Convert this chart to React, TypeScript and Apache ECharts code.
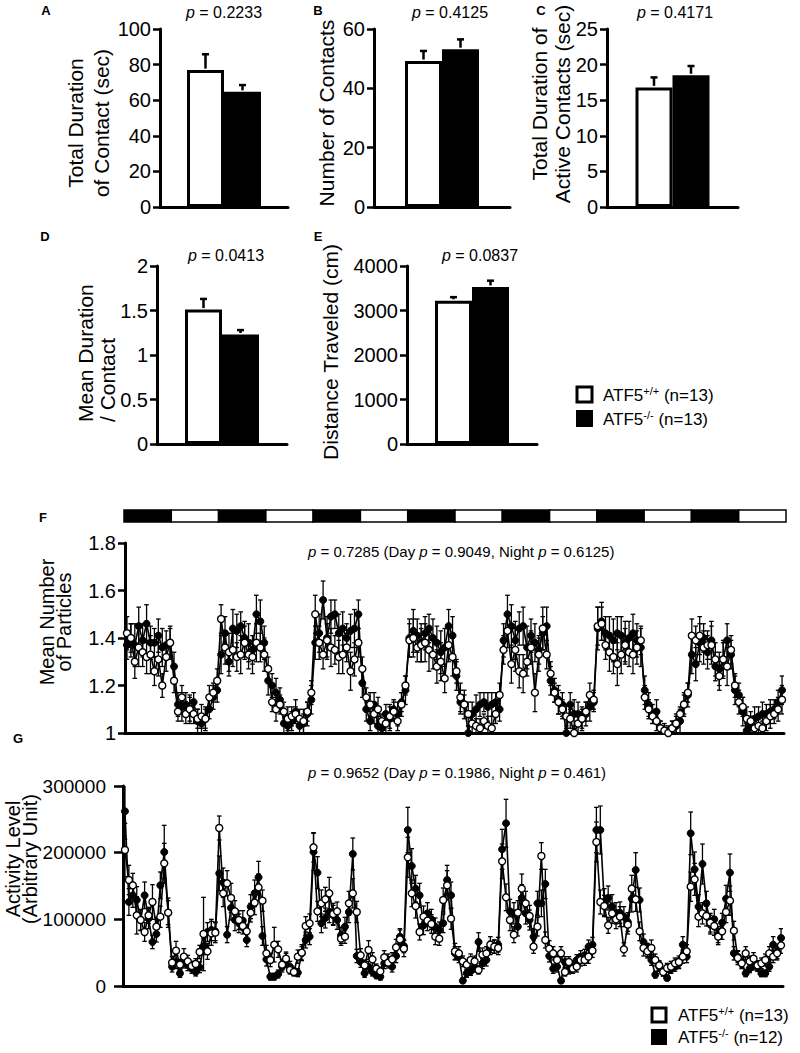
import React, { useEffect, useRef } from "react";
import * as echarts from "echarts";

const FONT = '"Liberation Sans", Arial, Helvetica, sans-serif';

// ---------- Bar panels A–E (mean, SEM), order: [ATF5+/+, ATF5-/-] ----------
const genotypes = ["ATF5+/+", "ATF5-/-"];
const contactDurationMean = [76.9, 64.7];
const contactDurationSem = [8.9, 3.8];
const contactCountMean = [49.2, 53.2];
const contactCountSem = [3.4, 3.3];
const activeContactMean = [16.8, 18.5];
const activeContactSem = [1.4, 1.3];
const durationPerContactMean = [1.51, 1.23];
const durationPerContactSem = [0.12, 0.05];
const distanceMean = [3220, 3530];
const distanceSem = [80, 140];

const pBars = ["0.2233", "0.4125", "0.4171", "0.0413", "0.0837"];

// ---------- Light/dark schedule: [startHour, endHour, dark(1)/light(0)] ----------
const lightPhases = [
  [0, 12, 1], [12, 24, 0], [24, 36, 1], [36, 48, 0], [48, 60, 1], [60, 72, 0], [72, 84, 1],
  [84, 96, 0], [96, 108, 1], [108, 120, 0], [120, 132, 1], [132, 144, 0], [144, 156, 1], [156, 168, 0],
];

// ---------- F: mean number of particles, hourly (7 days, night first) ----------
const particlesWT = [
  1.42, 1.40, 1.30, 1.36, 1.34, 1.32, 1.33, 1.26, 1.31, 1.20, 1.32, 1.38,
  1.22, 1.09, 1.15, 1.08, 1.10, 1.08, 1.06, 1.07, 1.06, 1.15, 1.17, 1.22,
  1.48, 1.36, 1.34, 1.35, 1.32, 1.33, 1.38, 1.33, 1.32, 1.38, 1.36, 1.33,
  1.27, 1.13, 1.10, 1.12, 1.09, 1.06, 1.07, 1.08, 1.06, 1.05, 1.09, 1.17,
  1.50, 1.38, 1.33, 1.39, 1.36, 1.35, 1.32, 1.33, 1.36, 1.26, 1.31, 1.38,
  1.27, 1.15, 1.12, 1.08, 1.10, 1.05, 1.04, 1.07, 1.09, 1.05, 1.12, 1.20,
  1.39, 1.40, 1.36, 1.37, 1.38, 1.35, 1.33, 1.28, 1.30, 1.23, 1.37, 1.32,
  1.26, 1.15, 1.12, 1.08, 1.04, 1.03, 1.02, 1.05, 1.03, 1.02, 1.08, 1.16,
  1.35, 1.43, 1.29, 1.35, 1.26, 1.25, 1.30, 1.36, 1.17, 1.33, 1.44, 1.33,
  1.25, 1.17, 1.13, 1.10, 1.07, 1.06, 1.00, 1.04, 1.06, 1.09, 1.16, 1.14,
  1.45, 1.46, 1.37, 1.34, 1.32, 1.29, 1.33, 1.37, 1.34, 1.33, 1.36, 1.39,
  1.15, 1.10, 1.07, 1.05, 1.02, 1.01, 1.00, 1.02, 1.04, 1.08, 1.12, 1.17,
  1.41, 1.39, 1.41, 1.36, 1.37, 1.37, 1.31, 1.24, 1.31, 1.28, 1.35, 1.20,
  1.13, 1.11, 1.06, 1.05, 1.02, 1.03, 1.02, 1.05, 1.07, 1.08, 1.10, 1.14,
];
const particlesKO = [
  1.37, 1.39, 1.37, 1.45, 1.39, 1.46, 1.38, 1.38, 1.41, 1.36, 1.37, 1.38,
  1.28, 1.12, 1.11, 1.12, 1.10, 1.13, 1.05, 1.04, 1.06, 1.10, 1.15, 1.18,
  1.33, 1.42, 1.30, 1.44, 1.43, 1.45, 1.40, 1.38, 1.35, 1.50, 1.47, 1.38,
  1.22, 1.20, 1.17, 1.14, 1.04, 1.03, 1.05, 1.09, 1.03, 1.04, 1.08, 1.14,
  1.38, 1.42, 1.56, 1.40, 1.49, 1.50, 1.42, 1.44, 1.40, 1.43, 1.44, 1.50,
  1.21, 1.10, 1.05, 1.12, 1.03, 1.02, 1.08, 1.06, 1.10, 1.08, 1.13, 1.18,
  1.40, 1.43, 1.41, 1.38, 1.42, 1.44, 1.40, 1.38, 1.34, 1.36, 1.45, 1.41,
  1.24, 1.13, 1.12, 1.00, 1.08, 1.10, 1.12, 1.13, 1.11, 1.12, 1.13, 1.10,
  1.39, 1.50, 1.45, 1.39, 1.44, 1.45, 1.36, 1.41, 1.38, 1.35, 1.42, 1.45,
  1.22, 1.18, 1.14, 1.12, 1.00, 1.12, 1.08, 1.08, 1.06, 1.08, 1.11, 1.13,
  1.44, 1.47, 1.42, 1.41, 1.39, 1.42, 1.41, 1.38, 1.40, 1.42, 1.39, 1.36,
  1.18, 1.12, 1.08, 1.09, 1.02, 1.01, 1.01, 1.02, 1.03, 1.05, 1.12, 1.16,
  1.33, 1.29, 1.38, 1.40, 1.34, 1.39, 1.28, 1.27, 1.31, 1.39, 1.33, 1.18,
  1.16, 1.09, 1.01, 1.03, 1.06, 1.07, 1.08, 1.08, 1.09, 1.10, 1.13, 1.18,
];
const particlesWTSem = [
  .07, .06, .07, .08, .06, .07, .08, .06, .07, .05, .06, .06,
  .05, .04, .05, .04, .05, .04, .04, .05, .04, .05, .04, .05,
  .06, .07, .08, .07, .06, .08, .07, .06, .07, .08, .06, .07,
  .05, .04, .05, .04, .04, .05, .04, .03, .04, .05, .04, .05,
  .08, .07, .06, .07, .08, .06, .07, .08, .06, .08, .07, .06,
  .05, .04, .05, .04, .05, .03, .04, .05, .04, .04, .05, .04,
  .07, .08, .06, .07, .08, .09, .06, .07, .08, .06, .07, .08,
  .05, .06, .04, .05, .04, .03, .04, .03, .04, .05, .04, .05,
  .06, .07, .08, .09, .07, .08, .06, .07, .08, .07, .09, .06,
  .05, .04, .05, .04, .05, .04, .03, .04, .05, .04, .05, .04,
  .08, .07, .06, .08, .07, .09, .08, .07, .06, .08, .07, .06,
  .05, .04, .03, .04, .03, .03, .02, .03, .04, .03, .05, .04,
  .07, .06, .08, .07, .06, .08, .07, .06, .07, .08, .06, .05,
  .05, .04, .05, .04, .03, .04, .03, .04, .05, .04, .05, .06,
];
const particlesKOSem = [
  .06, .07, .09, .08, .07, .08, .07, .06, .07, .08, .06, .07,
  .06, .05, .06, .05, .06, .04, .05, .04, .05, .04, .05, .05,
  .08, .07, .06, .08, .07, .06, .07, .08, .06, .08, .09, .07,
  .06, .05, .06, .05, .04, .03, .04, .05, .03, .04, .05, .06,
  .07, .08, .08, .09, .07, .06, .08, .07, .06, .07, .08, .06,
  .06, .05, .04, .05, .04, .03, .04, .05, .04, .05, .04, .06,
  .08, .09, .07, .08, .07, .06, .08, .07, .09, .08, .07, .08,
  .06, .05, .06, .03, .05, .06, .05, .04, .06, .05, .04, .05,
  .07, .08, .09, .08, .07, .08, .09, .07, .08, .06, .07, .08,
  .06, .05, .06, .05, .03, .05, .06, .05, .04, .05, .06, .04,
  .09, .08, .07, .08, .09, .07, .08, .09, .07, .08, .07, .08,
  .06, .05, .04, .05, .03, .02, .02, .03, .04, .05, .04, .05,
  .08, .07, .08, .06, .07, .08, .06, .07, .08, .07, .06, .06,
  .05, .06, .03, .04, .05, .04, .05, .04, .05, .04, .05, .06,
];

// ---------- G: activity level, hourly ----------
const activityWT = [
  204000, 159000, 151000, 106000, 99000, 81000, 106000, 126000, 89000, 104000, 184000, 110000,
  35000, 53000, 32000, 44000, 37000, 30000, 33000, 51000, 78000, 52000, 79000, 80000,
  237000, 139000, 154000, 132000, 112000, 99000, 90000, 82000, 110000, 125000, 148000, 128000,
  49000, 39000, 62000, 55000, 32000, 41000, 24000, 21000, 44000, 50000, 90000, 94000,
  208000, 112000, 124000, 130000, 139000, 108000, 112000, 71000, 74000, 124000, 139000, 111000,
  46000, 31000, 54000, 40000, 26000, 22000, 43000, 35000, 40000, 58000, 70000, 56000,
  193000, 139000, 120000, 81000, 104000, 98000, 93000, 74000, 71000, 129000, 151000, 101000,
  52000, 49000, 37000, 32000, 39000, 37000, 24000, 47000, 49000, 62000, 59000, 57000,
  187000, 133000, 99000, 77000, 110000, 146000, 124000, 105000, 59000, 89000, 195000, 69000,
  56000, 49000, 39000, 49000, 21000, 36000, 26000, 29000, 39000, 39000, 44000, 53000,
  216000, 126000, 120000, 91000, 109000, 100000, 104000, 55000, 92000, 146000, 130000, 82000,
  57000, 52000, 57000, 39000, 31000, 21000, 27000, 29000, 34000, 36000, 44000, 52000,
  149000, 160000, 104000, 109000, 105000, 95000, 90000, 74000, 82000, 111000, 128000, 83000,
  42000, 34000, 49000, 37000, 41000, 31000, 34000, 39000, 49000, 44000, 49000, 61000,
];
const activityKO = [
  262000, 126000, 136000, 129000, 99000, 136000, 101000, 66000, 78000, 151000, 201000, 110000,
  29000, 36000, 19000, 36000, 31000, 26000, 21000, 28000, 59000, 81000, 84000, 82000,
  169000, 155000, 77000, 117000, 99000, 94000, 98000, 69000, 119000, 139000, 163000, 75000,
  40000, 14000, 14000, 18000, 29000, 39000, 29000, 22000, 20000, 49000, 69000, 74000,
  201000, 170000, 94000, 102000, 111000, 106000, 99000, 76000, 89000, 111000, 198000, 45000,
  36000, 19000, 29000, 21000, 16000, 14000, 34000, 39000, 29000, 45000, 74000, 60000,
  234000, 180000, 146000, 136000, 91000, 109000, 100000, 89000, 84000, 94000, 159000, 136000,
  49000, 44000, 8000, 19000, 22000, 29000, 66000, 34000, 39000, 57000, 59000, 62000,
  205000, 244000, 112000, 109000, 89000, 132000, 109000, 99000, 74000, 124000, 124000, 153000,
  45000, 26000, 29000, 8000, 36000, 24000, 31000, 39000, 44000, 46000, 59000, 62000,
  234000, 234000, 126000, 132000, 119000, 109000, 110000, 104000, 96000, 131000, 174000, 129000,
  66000, 54000, 39000, 17000, 29000, 21000, 12000, 26000, 29000, 34000, 62000, 44000,
  229000, 175000, 119000, 183000, 124000, 92000, 100000, 77000, 95000, 131000, 170000, 49000,
  44000, 36000, 19000, 26000, 31000, 29000, 19000, 19000, 29000, 62000, 51000, 72000,
];
const activityWTSem = [
  40000, 22000, 18000, 28000, 15000, 14000, 12000, 26000, 14000, 16000, 30000, 18000,
  9000, 14000, 8000, 12000, 9000, 7000, 8000, 10000, 55000, 12000, 18000, 15000,
  18000, 20000, 19000, 22000, 16000, 14000, 12000, 10000, 14000, 18000, 20000, 16000,
  12000, 10000, 26000, 12000, 8000, 10000, 6000, 6000, 10000, 12000, 14000, 14000,
  22000, 15000, 20000, 18000, 24000, 16000, 14000, 10000, 10000, 18000, 22000, 16000,
  10000, 8000, 14000, 10000, 7000, 6000, 10000, 8000, 10000, 12000, 14000, 12000,
  30000, 20000, 18000, 12000, 16000, 15000, 14000, 12000, 10000, 18000, 22000, 16000,
  12000, 10000, 8000, 7000, 9000, 8000, 6000, 10000, 10000, 12000, 10000, 10000,
  26000, 20000, 16000, 12000, 18000, 22000, 18000, 16000, 10000, 14000, 20000, 12000,
  12000, 10000, 8000, 10000, 6000, 8000, 7000, 8000, 9000, 8000, 10000, 10000,
  30000, 18000, 16000, 12000, 15000, 14000, 15000, 10000, 14000, 20000, 18000, 14000,
  12000, 10000, 12000, 9000, 7000, 6000, 7000, 8000, 8000, 9000, 10000, 10000,
  22000, 24000, 15000, 16000, 15000, 14000, 14000, 12000, 12000, 16000, 22000, 14000,
  10000, 8000, 10000, 8000, 9000, 7000, 8000, 9000, 10000, 9000, 10000, 12000,
];
const activityKOSem = [
  42000, 20000, 18000, 20000, 16000, 20000, 15000, 10000, 12000, 20000, 40000, 22000,
  8000, 10000, 6000, 9000, 8000, 7000, 6000, 8000, 12000, 14000, 16000, 14000,
  26000, 22000, 12000, 18000, 16000, 14000, 15000, 10000, 18000, 20000, 24000, 14000,
  10000, 5000, 5000, 6000, 8000, 10000, 8000, 6000, 6000, 10000, 12000, 12000,
  28000, 24000, 14000, 15000, 16000, 15000, 14000, 12000, 14000, 16000, 24000, 10000,
  8000, 6000, 8000, 6000, 5000, 5000, 8000, 9000, 8000, 10000, 12000, 10000,
  34000, 26000, 20000, 18000, 14000, 16000, 15000, 13000, 12000, 14000, 22000, 20000,
  10000, 9000, 4000, 6000, 6000, 8000, 14000, 8000, 9000, 10000, 10000, 11000,
  30000, 36000, 18000, 16000, 14000, 20000, 16000, 15000, 12000, 18000, 20000, 22000,
  9000, 7000, 8000, 4000, 8000, 6000, 7000, 8000, 9000, 9000, 10000, 11000,
  34000, 36000, 20000, 18000, 18000, 16000, 16000, 15000, 14000, 20000, 26000, 18000,
  12000, 10000, 8000, 5000, 7000, 6000, 4000, 7000, 7000, 8000, 12000, 9000,
  32000, 26000, 18000, 30000, 18000, 14000, 15000, 12000, 14000, 20000, 28000, 10000,
  9000, 8000, 5000, 6000, 7000, 7000, 5000, 5000, 7000, 12000, 10000, 14000,
];

const hours = particlesWT.map((_, i) => String(i));

const BAR_W = 37;

function buildOption() {
  const grids: any[] = [];
  const xAxes: any[] = [];
  const yAxes: any[] = [];
  const series: any[] = [];

  const axisLine = { show: true, onZero: false, lineStyle: { color: "#000", width: 3 } };
  const fmt = (v: number) => String(Math.round(v * 100) / 100);

  const barPanels = [
    { left: 160, top: 29, width: 128, height: 178, max: 100, interval: 20, mean: contactDurationMean, sem: contactDurationSem },
    { left: 374, top: 29, width: 136, height: 178, max: 60, interval: 20, mean: contactCountMean, sem: contactCountSem },
    { left: 607, top: 29, width: 131, height: 178, max: 25, interval: 5, mean: activeContactMean, sem: activeContactSem },
    { left: 157, top: 266, width: 130, height: 178, max: 2, interval: 0.5, mean: durationPerContactMean, sem: durationPerContactSem },
    { left: 407, top: 266, width: 130, height: 178, max: 4000, interval: 1000, mean: distanceMean, sem: distanceSem },
  ];

  barPanels.forEach((p, i) => {
    grids.push({ left: p.left, top: p.top, width: p.width, height: p.height });
    xAxes.push({
      gridIndex: i, type: "category", data: ["mean"], boundaryGap: true,
      axisLine, axisTick: { show: false }, axisLabel: { show: false },
    });
    yAxes.push({
      gridIndex: i, type: "value", min: 0, max: p.max, interval: p.interval,
      axisLine, axisTick: { show: true, length: 7, lineStyle: { color: "#000", width: 2.5 } },
      axisLabel: { color: "#000", fontSize: 20, fontFamily: FONT, margin: 9, formatter: fmt },
      splitLine: { show: false },
    });
    genotypes.forEach((g, gi) => {
      series.push({
        type: "bar", name: g, xAxisIndex: i, yAxisIndex: i, data: [p.mean[gi]],
        barWidth: BAR_W, barGap: "0%", silent: true,
        itemStyle: gi === 0 ? { color: "#fff", borderColor: "#000", borderWidth: 3 } : { color: "#000", borderColor: "#000", borderWidth: 0 },
        z: 2,
      });
    });
    genotypes.forEach((g, gi) => {
      const offset = (gi - 0.5) * BAR_W;
      series.push({
        type: "custom", xAxisIndex: i, yAxisIndex: i, silent: true, z: 3,
        data: [[0, p.mean[gi], p.sem[gi]]],
        renderItem: (params: any, api: any) => {
          const base = api.coord([api.value(0), api.value(1)]);
          const top = api.coord([api.value(0), api.value(1) + api.value(2)]);
          const x = base[0] + offset;
          const st = { stroke: "#000", lineWidth: 2.5 };
          return {
            type: "group",
            children: [
              { type: "line", shape: { x1: x, y1: base[1] - 1.5, x2: x, y2: top[1] }, style: st },
              { type: "line", shape: { x1: x - 3.5, y1: top[1], x2: x + 3.5, y2: top[1] }, style: st },
            ],
          };
        },
      });
    });
  });

  // time-series panels F and G
  const tsPanels = [
    { left: 125, top: 543, width: 659, height: 190, min: 1, max: 1.8, interval: 0.2, wt: particlesWT, ko: particlesKO, wtSem: particlesWTSem, koSem: particlesKOSem, fs: 20, tick: 7, margin: 9 },
    { left: 123, top: 786, width: 660, height: 200, min: 0, max: 300000, interval: 100000, wt: activityWT, ko: activityKO, wtSem: activityWTSem, koSem: activityKOSem, fs: 19, tick: 9, margin: 17 },
  ];
  tsPanels.forEach((p, k) => {
    const i = 5 + k;
    grids.push({ left: p.left, top: p.top, width: p.width, height: p.height });
    xAxes.push({
      gridIndex: i, type: "category", data: hours, boundaryGap: true,
      axisLine, axisTick: { show: false }, axisLabel: { show: false },
    });
    yAxes.push({
      gridIndex: i, type: "value", min: p.min, max: p.max, interval: p.interval,
      axisLine, axisTick: { show: true, length: p.tick, lineStyle: { color: "#000", width: 2.5 } },
      axisLabel: { color: "#000", fontSize: p.fs, fontFamily: FONT, margin: p.margin, formatter: fmt },
      splitLine: { show: false },
    });
    const errSeries = (vals: number[], sems: number[]) => ({
      type: "custom", xAxisIndex: i, yAxisIndex: i, silent: true, clip: true, z: 1,
      data: vals.map((v, j) => [j, v, sems[j]]),
      renderItem: (params: any, api: any) => {
        const j = api.value(0), v = api.value(1), e = api.value(2);
        const hi = api.coord([j, v + e]);
        const lo = api.coord([j, v - e]);
        const c = 2.3;
        const st = { stroke: "#000", lineWidth: 1.3 };
        return {
          type: "group",
          children: [
            { type: "line", shape: { x1: hi[0], y1: hi[1], x2: lo[0], y2: lo[1] }, style: st },
            { type: "line", shape: { x1: hi[0] - c, y1: hi[1], x2: hi[0] + c, y2: hi[1] }, style: st },
            { type: "line", shape: { x1: lo[0] - c, y1: lo[1], x2: lo[0] + c, y2: lo[1] }, style: st },
          ],
        };
      },
    });
    series.push(errSeries(p.wt, p.wtSem));
    series.push(errSeries(p.ko, p.koSem));
    series.push({
      type: "line", name: genotypes[1], xAxisIndex: i, yAxisIndex: i, data: p.ko,
      symbol: "circle", symbolSize: 7, showAllSymbol: true, silent: true, z: 3,
      lineStyle: { color: "#000", width: 1.6 },
      itemStyle: { color: "#000", borderColor: "#000", borderWidth: 1 },
    });
    series.push({
      type: "line", name: genotypes[0], xAxisIndex: i, yAxisIndex: i, data: p.wt,
      symbol: "circle", symbolSize: 7, showAllSymbol: true, silent: true, z: 4,
      lineStyle: { color: "#000", width: 1.6 },
      itemStyle: { color: "#fff", borderColor: "#000", borderWidth: 1.4 },
    });
  });

  // light/dark bar
  grids.push({ left: 124, top: 510, width: 662, height: 12 });
  xAxes.push({ gridIndex: 7, type: "value", min: 0, max: 168, show: false });
  yAxes.push({ gridIndex: 7, type: "value", min: 0, max: 1, show: false });
  series.push({
    type: "custom", xAxisIndex: 7, yAxisIndex: 7, silent: true,
    data: lightPhases,
    renderItem: (params: any, api: any) => {
      const p0 = api.coord([api.value(0), 1]);
      const p1 = api.coord([api.value(1), 0]);
      return {
        type: "rect",
        shape: { x: p0[0], y: p0[1], width: p1[0] - p0[0], height: p1[1] - p0[1] },
        style: { fill: api.value(2) ? "#000" : "#fff", stroke: "#000", lineWidth: 1.5 },
      };
    },
  });

  // ---------- annotations ----------
  const T = (x: number, y: number, text: string, o: any = {}) => ({
    type: "text", x, y, rotation: o.rotation || 0, z: 100, silent: true,
    style: {
      text, fill: "#000", fontFamily: FONT, fontSize: o.fontSize || 16, fontWeight: o.fontWeight || "normal",
      align: o.align || "center", verticalAlign: o.verticalAlign || "middle",
      textAlign: o.align || "center", textVerticalAlign: o.verticalAlign || "middle",
      lineHeight: o.lineHeight, rich: o.rich,
    },
  });
  const italicP = { i: { fontStyle: "italic", fontSize: 16, fontFamily: FONT, fill: "#000" } };
  const italicP15 = { i: { fontStyle: "italic", fontSize: 15, fontFamily: FONT, fill: "#000" } };
  const R90 = Math.PI / 2;
  const sup = (main: string, s: string, rest: string) => ({
    text: `{a|${main}}{s|${s}}{a|${rest}}`,
    rich: {
      a: { fontSize: 17, fontFamily: FONT, fill: "#000", lineHeight: 20 },
      s: { fontSize: 11, fontFamily: FONT, fill: "#000", lineHeight: 12, verticalAlign: "top" },
    },
  });
  const l1 = sup("ATF5", "+/+", " (n=13)");
  const l2 = sup("ATF5", "-/-", " (n=13)");
  const l3 = sup("ATF5", "+/+", " (n=13)");
  const l4 = sup("ATF5", "-/-", " (n=12)");

  const pPos = [[224, 12], [450, 12], [675, 12], [226, 255], [480, 255]];

  const elements: any[] = [
    T(46, 10, "A", { fontSize: 13, fontWeight: "bold" }),
    T(318, 10, "B", { fontSize: 13, fontWeight: "bold" }),
    T(541, 10, "C", { fontSize: 13, fontWeight: "bold" }),
    T(45, 236, "D", { fontSize: 13, fontWeight: "bold" }),
    T(318, 236, "E", { fontSize: 13, fontWeight: "bold" }),
    T(43, 517, "F", { fontSize: 13, fontWeight: "bold" }),
    T(18, 738, "G", { fontSize: 13, fontWeight: "bold" }),
    ...pBars.map((p, k) => T(pPos[k][0], pPos[k][1], `{i|p} = ${p}`, { fontSize: 16, rich: italicP })),
    T(308, 551, "{i|p} = 0.7285 (Day {i|p} = 0.9049, Night {i|p} = 0.6125)", { fontSize: 15, align: "left", rich: italicP15 }),
    T(308, 772, "{i|p} = 0.9652 (Day {i|p} = 0.1986, Night {i|p} = 0.461)", { fontSize: 15, align: "left", rich: italicP15 }),
    T(88, 123, "Total Duration\nof Contact (sec)", { fontSize: 21, lineHeight: 26, rotation: R90 }),
    T(326, 113, "Number of Contacts", { fontSize: 21, rotation: R90 }),
    T(551, 104, "Total Duration of\nActive Contacts (sec)", { fontSize: 21, lineHeight: 23, rotation: R90 }),
    T(96, 422, "Mean Duration\n/ Contact", { fontSize: 21, lineHeight: 22, rotation: R90, align: "left" }),
    T(330, 352, "Distance Traveled (cm)", { fontSize: 21, rotation: R90 }),
    T(55, 622, "Mean Number\nof Particles", { fontSize: 20, lineHeight: 17, rotation: R90 }),
    T(21, 859, "Activity Level\n(Arbitrary Unit)", { fontSize: 20, lineHeight: 17, rotation: R90 }),
    // top legend
    { type: "rect", z: 100, silent: true, shape: { x: 577, y: 387, width: 15, height: 15 }, style: { fill: "#fff", stroke: "#000", lineWidth: 3 } },
    { type: "rect", z: 100, silent: true, shape: { x: 576, y: 410, width: 17, height: 17 }, style: { fill: "#000" } },
    T(603, 395, l1.text, { align: "left", rich: l1.rich, fontSize: 17 }),
    T(603, 419, l2.text, { align: "left", rich: l2.rich, fontSize: 17 }),
    // bottom legend
    { type: "rect", z: 100, silent: true, shape: { x: 652, y: 1008, width: 14, height: 14 }, style: { fill: "#fff", stroke: "#000", lineWidth: 3 } },
    { type: "rect", z: 100, silent: true, shape: { x: 651, y: 1029, width: 16, height: 16 }, style: { fill: "#000" } },
    T(678, 1015, l3.text, { align: "left", rich: l3.rich, fontSize: 17 }),
    T(678, 1037, l4.text, { align: "left", rich: l4.rich, fontSize: 17 }),
  ];

  return {
    animation: false,
    backgroundColor: "#fff",
    textStyle: { fontFamily: FONT },
    grid: grids,
    xAxis: xAxes,
    yAxis: yAxes,
    series,
    graphic: { elements },
  };
}

export default function App() {
  const ref = useRef<HTMLDivElement>(null);
  useEffect(() => {
    if (!ref.current) return;
    const chart = echarts.init(ref.current, undefined, { renderer: "svg" });
    chart.setOption(buildOption() as any);
    return () => chart.dispose();
  }, []);
  return (
    <div
      ref={ref}
      style={{ position: "fixed", left: 0, top: 0, width: 800, height: 1053, background: "#fff" }}
    />
  );
}
